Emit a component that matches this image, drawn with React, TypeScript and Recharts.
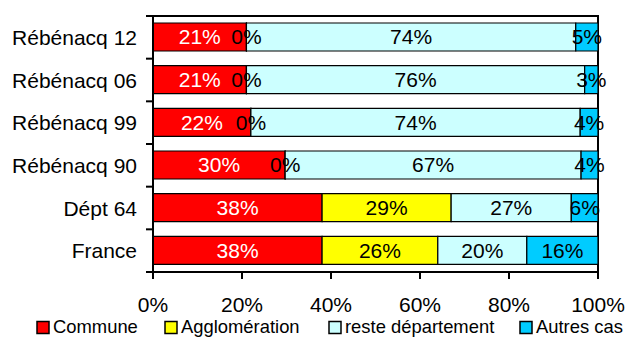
import React from 'react';
import { BarChart, Bar, XAxis, YAxis, LabelList, ReferenceArea } from 'recharts';

const categories = ['Rébénacq 12', 'Rébénacq 06', 'Rébénacq 99', 'Rébénacq 90', 'Dépt 64', 'France'];
const commune = [21, 21, 22, 29.7, 38, 38];
const agglomeration = [0, 0, 0, 0, 29, 26];
const resteDepartement = [74, 76, 74, 66.5, 27, 20];
const autresCas = [5, 3, 4, 3.8, 6, 16];
const xTicks = [0, 20, 40, 60, 80, 100];

const seriesNames = ['Commune', 'Agglomération', 'reste département', 'Autres cas'];
const seriesKeys = ['commune', 'agglomeration', 'reste', 'autres'];
const seriesColors = ['#FF0000', '#FFFF00', '#CCFFFF', '#00CCFF'];
const labelColors = ['#FFFFFF', '#000000', '#000000', '#000000'];

const data = categories.map((name, i) => ({
  name,
  commune: commune[i],
  agglomeration: agglomeration[i],
  reste: resteDepartement[i],
  autres: autresCas[i],
}));

const FONT = '"Liberation Sans", Arial, sans-serif';

const CatTick = (props: any) => {
  const { x, y, payload, index, visibleTicksCount } = props;
  const half = payload && payload.offset != null ? payload.offset : 21.33;
  const ax = x + 16;
  const isLast = index === visibleTicksCount - 1;
  return (
    <g>
      <text x={x} y={y} dy="0.36em" textAnchor="end" fontSize={21} fill="#000" fontFamily={FONT}>
        {payload.value}
      </text>
      <line x1={ax - 7} x2={ax} y1={y - half} y2={y - half} stroke="#000" strokeWidth={2} />
      {isLast && <line x1={ax - 7} x2={ax} y1={y + half} y2={y + half} stroke="#000" strokeWidth={2} />}
    </g>
  );
};

const legendX = [37, 165, 329, 520];

export default function App() {
  return (
    <div style={{ position: 'absolute', left: 0, top: 0, width: 626, height: 338, overflow: 'hidden', background: '#fff' }}>
      <BarChart
        width={626}
        height={338}
        data={data}
        layout="vertical"
        margin={{ top: 16, right: 28, left: 0, bottom: 36 }}
      >
        <XAxis
          type="number"
          domain={[0, 100]}
          ticks={xTicks}
          allowDataOverflow
          tickFormatter={(v: number) => `${v}%`}
          tick={{ fontSize: 21, fill: '#000', fontFamily: FONT }}
          tickSize={7}
          tickMargin={18}
          axisLine={{ stroke: '#000', strokeWidth: 2 }}
          tickLine={{ stroke: '#000', strokeWidth: 2 }}
          height={30}
        />
        <YAxis
          type="category"
          dataKey="name"
          width={153}
          axisLine={{ stroke: '#000', strokeWidth: 2 }}
          tickLine={false}
          tickSize={0}
          tickMargin={16}
          tick={<CatTick />}
          interval={0}
        />
        {seriesKeys.map((k, i) => (
          <Bar
            key={k}
            dataKey={k}
            name={seriesNames[i]}
            stackId="a"
            fill={seriesColors[i]}
            stroke="#000"
            strokeWidth={1.2}
            barSize={28}
            minPointSize={0.01}
            isAnimationActive={false}
          >
            <LabelList
              dataKey={k}
              position="center"
              fill={labelColors[i]}
              fontSize={21}
              fontFamily={FONT}
              formatter={(v: any) => `${Math.round(Number(v))}%`}
            />
          </Bar>
        ))}
        <ReferenceArea x1={0} x2={100} fill="none" stroke="#000" strokeWidth={2} ifOverflow="visible" />
      </BarChart>
      <svg width={626} height={338} style={{ position: 'absolute', left: 0, top: 0, pointerEvents: 'none' }}>
        {seriesNames.map((n, i) => (
          <g key={n}>
            <rect x={legendX[i]} y={321.5} width={12} height={12} fill={seriesColors[i]} stroke="#000" strokeWidth={1.5} />
            <text x={legendX[i] + 16} y={333} fontSize={18.4} fill="#000" fontFamily={FONT}>
              {n}
            </text>
          </g>
        ))}
      </svg>
    </div>
  );
}
